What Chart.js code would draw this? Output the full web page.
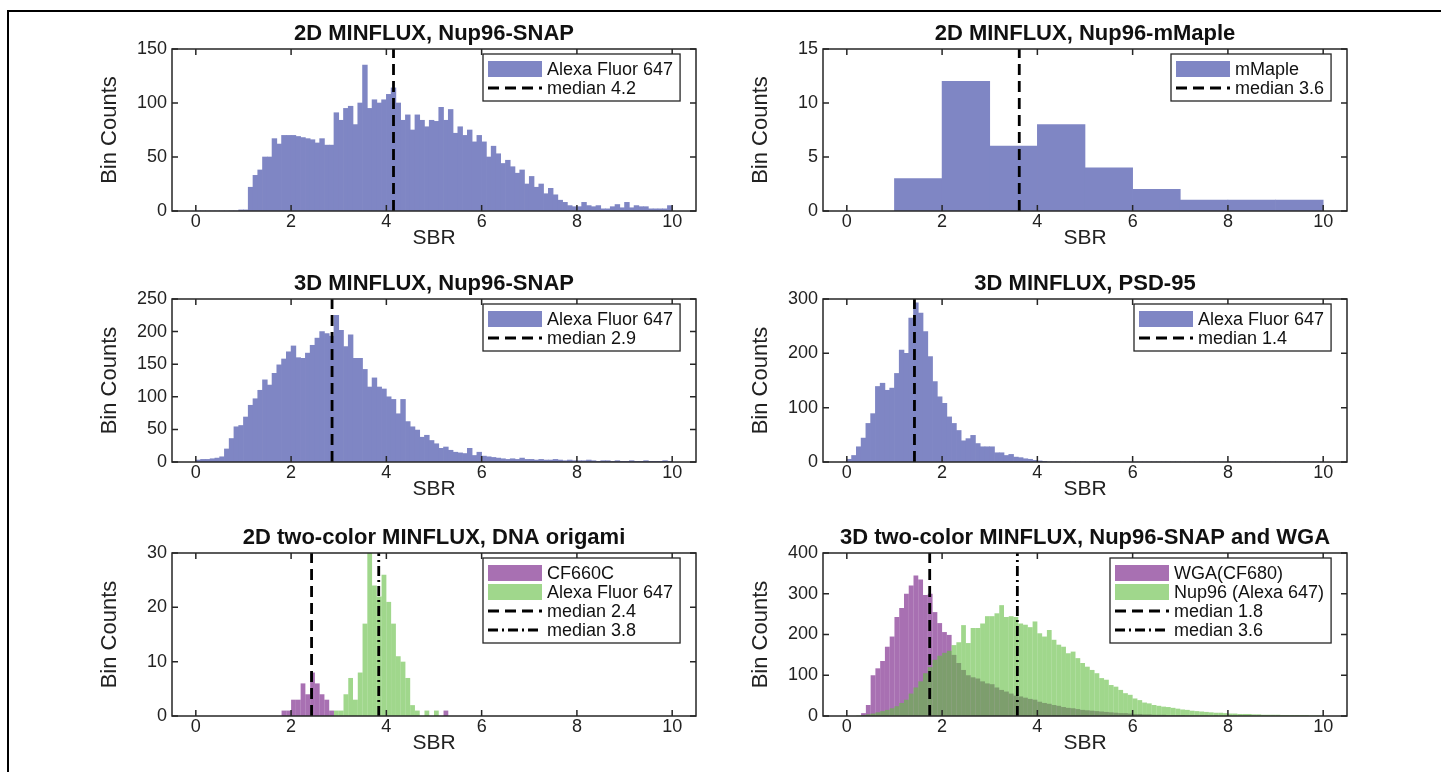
<!DOCTYPE html>
<html>
<head>
<meta charset="utf-8">
<script src="https://cdn.jsdelivr.net/npm/chart.js@4.4.1/dist/chart.umd.min.js"></script>
<style>
html,body{margin:0;padding:0;background:#fff;overflow:hidden;width:1441px;height:772px;}
#frameTop{position:absolute;left:7px;top:10px;width:1434px;height:2px;background:#000;}
#frameLeft{position:absolute;left:7px;top:10px;width:2px;height:762px;background:#000;}
canvas{position:absolute;}
</style>
</head>
<body>
<div id="frameTop"></div>
<div id="frameLeft"></div>
<canvas id="c1" width="674" height="236" style="left:97px;top:15px;width:674px;height:236px"></canvas>
<canvas id="c2" width="674" height="236" style="left:748px;top:15px;width:674px;height:236px"></canvas>
<canvas id="c3" width="674" height="237" style="left:97px;top:265px;width:674px;height:237px"></canvas>
<canvas id="c4" width="674" height="237" style="left:748px;top:265px;width:674px;height:237px"></canvas>
<canvas id="c5" width="674" height="237" style="left:97px;top:519px;width:674px;height:237px"></canvas>
<canvas id="c6" width="674" height="237" style="left:748px;top:519px;width:674px;height:237px"></canvas>
<script>
// ---------- DATA ----------
// lower edges of the 0.1-wide SBR bins
const sbrBinEdges = [0.0,0.1,0.2,0.3,0.4,0.5,0.6,0.7,0.8,0.9,
  1.0,1.1,1.2,1.3,1.4,1.5,1.6,1.7,1.8,1.9,
  2.0,2.1,2.2,2.3,2.4,2.5,2.6,2.7,2.8,2.9,
  3.0,3.1,3.2,3.3,3.4,3.5,3.6,3.7,3.8,3.9,
  4.0,4.1,4.2,4.3,4.4,4.5,4.6,4.7,4.8,4.9,
  5.0,5.1,5.2,5.3,5.4,5.5,5.6,5.7,5.8,5.9,
  6.0,6.1,6.2,6.3,6.4,6.5,6.6,6.7,6.8,6.9,
  7.0,7.1,7.2,7.3,7.4,7.5,7.6,7.7,7.8,7.9,
  8.0,8.1,8.2,8.3,8.4,8.5,8.6,8.7,8.8,8.9,
  9.0,9.1,9.2,9.3,9.4,9.5,9.6,9.7,9.8,9.9];
const sbrBinWidth = 0.1;
// lower edges of the 1-wide bins (mMaple)
const mMapleBinEdges = [1,2,3,4,5,6,7,8,9];
const mMapleBinWidth = 1;

// 2D MINFLUX, Nup96-SNAP (Alexa Fluor 647)
const nup2dAF647 = [0,0,0,0,0,0,0,0,0,1,
  1,22,33,38,50,50,67,62,70,70,
  70,69,68,67,66,63,67,61,61,91,
  84,95,97,80,100,135,95,103,100,103,
  108,114,100,84,89,75,89,84,78,84,
  83,96,84,94,72,78,70,75,64,70,
  64,50,60,53,44,47,41,35,38,25,
  32,22,25,16,21,15,10,8,5,4,
  4,8,5,4,5,2,2,4,6,3,
  8,3,5,4,4,2,2,2,2,5];
// 2D MINFLUX, Nup96-mMaple
const nup2dMMaple = [3,12,6,8,4,2,1,1,1];
// 3D MINFLUX, Nup96-SNAP
const nup3dAF647 = [3,4,4,5,6,8,20,36,54,56,
  69,87,97,110,126,118,136,149,158,169,
  178,160,159,167,179,190,200,197,193,225,
  202,177,195,159,159,142,115,129,115,112,
  100,96,74,96,62,54,49,38,41,33,
  28,21,23,18,15,14,13,21,10,15,
  9,8,7,6,5,4,5,4,6,4,
  4,3,4,3,3,4,3,2,3,2,
  2,2,3,2,1,2,2,1,2,1,
  1,2,1,1,2,1,1,1,2,1];
// 3D MINFLUX, PSD-95
const psd95AF647 = [5,12,28,44,71,89,139,145,132,136,
  163,206,200,265,293,274,240,194,148,120,
  108,83,71,58,39,43,49,34,28,28,
  28,17,17,12,14,9,8,6,5,3,
  2,1,0,0,0,0,0,0,0,0,
  0,0,0,0,0,0,0,0,0,0,
  0,0,0,0,0,0,0,0,0,0,
  0,0,0,0,0,0,0,0,0,0,
  0,0,0,0,0,0,0,0,0,0,
  0,0,0,0,0,0,0,0,0,0];
// 2D two-color, DNA origami
const origamiCF660C = [0,0,0,0,0,0,0,0,0,0,
  0,0,0,0,0,0,0,0,1,1,
  3,3,6,4,8,6,4,3,1,0,
  0,0,0,0,0,0,0,0,0,0,
  0,0,0,0,0,0,0,0,0,0,
  0,0,1,0,0,0,0,0,0,0,
  0,0,0,0,0,0,0,0,0,0,
  0,0,0,0,0,0,0,0,0,0,
  0,0,0,0,0,0,0,0,0,0,
  0,0,0,0,0,0,0,0,0,0];
const origamiAF647 = [0,0,0,0,0,0,0,0,0,0,
  0,0,0,0,0,0,0,0,0,0,
  0,0,0,0,0,0,0,0,0,1,
  1,4,7,3,8,17,32,24,22,26,
  21,17,11,10,7,2,1,0,1,0,
  1,0,0,0,0,0,0,0,0,0,
  0,0,0,0,0,0,0,0,0,0,
  0,0,0,0,0,0,0,0,0,0,
  0,0,0,0,0,0,0,0,0,0,
  0,0,0,0,0,0,0,0,0,0];
// 3D two-color, Nup96-SNAP and WGA
const wgaCF680 = [0,0,0,7,27,100,117,135,170,195,
  243,265,300,320,345,335,297,300,255,228,
  206,199,150,130,113,100,95,92,85,80,
  78,70,64,60,55,50,48,45,42,40,
  35,32,30,27,25,22,20,19,17,15,
  14,13,12,11,10,9,8,7,7,6,
  5,5,4,4,3,3,3,2,2,2,
  2,1,1,1,1,1,0,1,0,0,
  0,0,0,0,0,0,0,0,0,0,
  0,0,0,0,0,0,0,0,0,0];
const nup96AF647 = [0,0,1,2,4,6,9,12,15,19,
  24,32,40,55,70,85,105,120,138,148,
  155,160,174,181,223,179,216,216,227,245,
  245,252,272,243,245,243,227,224,218,232,
  203,195,211,187,175,170,154,158,142,130,
  121,113,105,93,89,76,72,64,56,52,
  43,39,33,31,27,25,23,22,20,18,
  16,15,13,12,11,10,9,8,8,7,
  6,6,5,5,5,4,4,3,3,3,
  3,2,2,2,2,2,2,1,1,1];

// median positions (SBR)
const median2dSNAP = 4.15;
const median2dMMaple = 3.62;
const median3dSNAP = 2.86;
const medianPSD95 = 1.42;
const medianOrigami = [2.43, 3.84];
const medianTwoColor3d = [1.74, 3.58];

// axis ticks
const xMin = -0.5, xMax = 10.5, xStep = 2;
const yLimits = [150, 15, 250, 300, 30, 400];
const ySteps  = [50, 5, 50, 100, 10, 100];

// ---------- STYLE ----------
const FONT = '"Liberation Sans", Arial, Helvetica, sans-serif';
const BLUE = 'rgb(127,134,196)';
const PURPLE = 'rgba(110,17,127,0.6)';
const GREEN = 'rgba(97,188,63,0.6)';
const AXIS = '#262626';
const DASH = [11,6];
const DASHDOT = [10,4,2,4];

function histDataset(label, edges, width, counts, color, order, inflate) {
  return {
    type: 'bar', label, order,
    data: edges.map((e, i) => ({x: e + width / 2, y: counts[i]})),
    backgroundColor: color, borderWidth: 0,
    barPercentage: 1, categoryPercentage: 1, grouped: false,
    inflateAmount: inflate
  };
}
function medianDataset(label, value, yMax, dash) {
  return {
    type: 'line', label, order: 0,
    data: [{x: value, y: 0}, {x: value, y: yMax}],
    borderColor: '#000', borderWidth: 2.8, borderDash: dash,
    pointRadius: 0, fill: false
  };
}

const framePlugin = {
  id: 'frameLegend',
  afterDatasetsDraw(chart, args, opts) {
    const ctx = chart.ctx;
    const {left, right, top, bottom} = chart.chartArea;
    const xs = chart.scales.x, ys = chart.scales.y;
    ctx.save();
    ctx.setLineDash([]);
    ctx.strokeStyle = AXIS;
    ctx.lineWidth = 1.5;
    ctx.strokeRect(left, top, right - left, bottom - top);
    const tl = 6;
    ctx.beginPath();
    xs.ticks.forEach(t => {
      const px = xs.getPixelForValue(t.value);
      ctx.moveTo(px, bottom); ctx.lineTo(px, bottom - tl);
      ctx.moveTo(px, top); ctx.lineTo(px, top + tl);
    });
    ys.ticks.forEach(t => {
      const py = ys.getPixelForValue(t.value);
      ctx.moveTo(left, py); ctx.lineTo(left + tl, py);
      ctx.moveTo(right, py); ctx.lineTo(right - tl, py);
    });
    ctx.stroke();

    // legend box
    const items = opts.items || [];
    ctx.font = '18px ' + FONT;
    const textW = Math.max(...items.map(it => ctx.measureText(it.text).width));
    const padL = 5, sw = 54, gap = 5, padR = 7, rowH = 19, firstC = 15, lastPad = 13;
    const boxW = padL + sw + gap + textW + padR;
    const boxH = firstC + (items.length - 1) * rowH + lastPad;
    const x0 = Math.round(right - 16 - boxW), y0 = Math.round(top + 5);
    ctx.fillStyle = '#fff';
    ctx.fillRect(x0, y0, boxW, boxH);
    ctx.lineWidth = 1.3;
    ctx.strokeStyle = AXIS;
    ctx.strokeRect(x0, y0, boxW, boxH);
    items.forEach((it, k) => {
      const cy = y0 + firstC + k * rowH;
      if (it.kind === 'box') {
        ctx.fillStyle = it.color;
        ctx.fillRect(x0 + padL, cy - 8, sw, 16);
      } else {
        ctx.save();
        ctx.strokeStyle = '#000';
        ctx.lineWidth = 2.8;
        ctx.setLineDash(it.dash);
        ctx.beginPath();
        ctx.moveTo(x0 + padL, cy); ctx.lineTo(x0 + padL + sw, cy);
        ctx.stroke();
        ctx.restore();
      }
      ctx.fillStyle = '#111';
      ctx.textBaseline = 'middle';
      ctx.textAlign = 'left';
      ctx.fillText(it.text, x0 + padL + sw + gap, cy + 1);
    });
    ctx.restore();
  }
};

function makeChart(id, title, yMax, yStep, datasets, legendItems) {
  new Chart(document.getElementById(id), {
    type: 'bar',
    data: {datasets},
    plugins: [framePlugin],
    options: {
      responsive: false, animation: false, devicePixelRatio: 1, events: [],
      layout: {padding: 0},
      plugins: {
        legend: {display: false}, tooltip: {enabled: false},
        title: {display: true, text: title, color: '#111',
          font: {family: FONT, size: 22, weight: 'bold', lineHeight: '22px'},
          padding: {top: 8, bottom: 4}},
        frameLegend: {items: legendItems}
      },
      scales: {
        x: {type: 'linear', min: xMin, max: xMax, offset: false,
          grid: {display: false, drawTicks: false}, border: {display: false},
          ticks: {stepSize: xStep, includeBounds: false, padding: 0, color: '#222',
            font: {family: FONT, size: 18, lineHeight: 1.2}},
          title: {display: true, text: 'SBR', color: '#222',
            font: {family: FONT, size: 21, lineHeight: '21px'}, padding: {top: 0, bottom: 2.5}},
          afterFit(s) { s.height = 40; }},
        y: {type: 'linear', position: 'left', min: 0, max: yMax,
          grid: {display: false, drawTicks: false}, border: {display: false},
          ticks: {stepSize: yStep, padding: 5, color: '#222',
            font: {family: FONT, size: 18, lineHeight: 1.2}},
          title: {display: true, text: 'Bin Counts', color: '#222',
            font: {family: FONT, size: 22, lineHeight: '22px'}, padding: {top: 2, bottom: 0}},
          afterFit(s) { s.width = 75; }},
        yR: {type: 'linear', position: 'right', display: true,
          grid: {display: false, drawTicks: false}, border: {display: false},
          ticks: {display: false}, afterFit(s) { s.width = 75; }}
      }
    }
  });
}

makeChart('c1', '2D MINFLUX, Nup96-SNAP', yLimits[0], ySteps[0], [
  histDataset('Alexa Fluor 647', sbrBinEdges, sbrBinWidth, nup2dAF647, BLUE, 2, 'auto'),
  medianDataset('median 4.2', median2dSNAP, yLimits[0], DASH)
], [{kind: 'box', color: BLUE, text: 'Alexa Fluor 647'}, {kind: 'line', dash: DASH, text: 'median 4.2'}]);

makeChart('c2', '2D MINFLUX, Nup96-mMaple', yLimits[1], ySteps[1], [
  histDataset('mMaple', mMapleBinEdges, mMapleBinWidth, nup2dMMaple, BLUE, 2, 'auto'),
  medianDataset('median 3.6', median2dMMaple, yLimits[1], DASH)
], [{kind: 'box', color: BLUE, text: 'mMaple'}, {kind: 'line', dash: DASH, text: 'median 3.6'}]);

makeChart('c3', '3D MINFLUX, Nup96-SNAP', yLimits[2], ySteps[2], [
  histDataset('Alexa Fluor 647', sbrBinEdges, sbrBinWidth, nup3dAF647, BLUE, 2, 'auto'),
  medianDataset('median 2.9', median3dSNAP, yLimits[2], DASH)
], [{kind: 'box', color: BLUE, text: 'Alexa Fluor 647'}, {kind: 'line', dash: DASH, text: 'median 2.9'}]);

makeChart('c4', '3D MINFLUX, PSD-95', yLimits[3], ySteps[3], [
  histDataset('Alexa Fluor 647', sbrBinEdges, sbrBinWidth, psd95AF647, BLUE, 2, 'auto'),
  medianDataset('median 1.4', medianPSD95, yLimits[3], DASH)
], [{kind: 'box', color: BLUE, text: 'Alexa Fluor 647'}, {kind: 'line', dash: DASH, text: 'median 1.4'}]);

makeChart('c5', '2D two-color MINFLUX, DNA origami', yLimits[4], ySteps[4], [
  histDataset('CF660C', sbrBinEdges, sbrBinWidth, origamiCF660C, PURPLE, 3, 0),
  histDataset('Alexa Fluor 647', sbrBinEdges, sbrBinWidth, origamiAF647, GREEN, 2, 0),
  medianDataset('median 2.4', medianOrigami[0], yLimits[4], DASH),
  medianDataset('median 3.8', medianOrigami[1], yLimits[4], DASHDOT)
], [{kind: 'box', color: PURPLE, text: 'CF660C'}, {kind: 'box', color: GREEN, text: 'Alexa Fluor 647'},
    {kind: 'line', dash: DASH, text: 'median 2.4'}, {kind: 'line', dash: DASHDOT, text: 'median 3.8'}]);

makeChart('c6', '3D two-color MINFLUX, Nup96-SNAP and WGA', yLimits[5], ySteps[5], [
  histDataset('WGA(CF680)', sbrBinEdges, sbrBinWidth, wgaCF680, PURPLE, 3, 0),
  histDataset('Nup96 (Alexa 647)', sbrBinEdges, sbrBinWidth, nup96AF647, GREEN, 2, 0),
  medianDataset('median 1.8', medianTwoColor3d[0], yLimits[5], DASH),
  medianDataset('median 3.6', medianTwoColor3d[1], yLimits[5], DASHDOT)
], [{kind: 'box', color: PURPLE, text: 'WGA(CF680)'}, {kind: 'box', color: GREEN, text: 'Nup96 (Alexa 647)'},
    {kind: 'line', dash: DASH, text: 'median 1.8'}, {kind: 'line', dash: DASHDOT, text: 'median 3.6'}]);
</script>
</body>
</html>
